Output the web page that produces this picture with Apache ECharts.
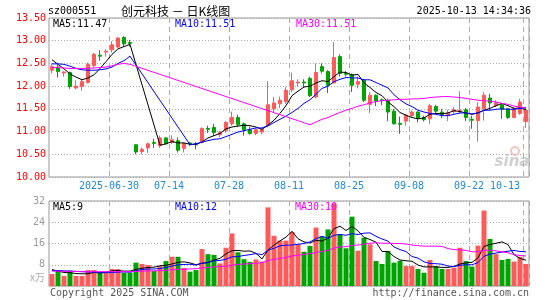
<!DOCTYPE html>
<html>
<head>
<meta charset="utf-8">
<script src="https://cdn.jsdelivr.net/npm/echarts@6/dist/echarts.min.js"></script>
<style>
html, body { margin: 0; padding: 0; background: #fff; }
#chart { width: 545px; height: 300px; }
</style>
</head>
<body>
<div id="chart"></div>
<script>
// trading days shown (80 sessions)
var dates = [
  '2025-06-16','2025-06-17','2025-06-18','2025-06-19','2025-06-20','2025-06-23','2025-06-24','2025-06-25','2025-06-26','2025-06-27',
  '2025-06-30','2025-07-01','2025-07-02','2025-07-03','2025-07-04','2025-07-07','2025-07-08','2025-07-09','2025-07-10','2025-07-11',
  '2025-07-14','2025-07-15','2025-07-16','2025-07-17','2025-07-18','2025-07-21','2025-07-22','2025-07-23','2025-07-24','2025-07-25',
  '2025-07-28','2025-07-29','2025-07-30','2025-07-31','2025-08-01','2025-08-04','2025-08-05','2025-08-06','2025-08-07','2025-08-08',
  '2025-08-11','2025-08-12','2025-08-13','2025-08-14','2025-08-15','2025-08-18','2025-08-19','2025-08-20','2025-08-21','2025-08-22',
  '2025-08-25','2025-08-26','2025-08-27','2025-08-28','2025-08-29','2025-09-01','2025-09-02','2025-09-03','2025-09-04','2025-09-05',
  '2025-09-08','2025-09-09','2025-09-10','2025-09-11','2025-09-12','2025-09-15','2025-09-16','2025-09-17','2025-09-18','2025-09-19',
  '2025-09-22','2025-09-23','2025-09-24','2025-09-25','2025-09-26','2025-09-29','2025-09-30','2025-10-09','2025-10-10','2025-10-13'
];
var tickDates = ['2025-06-30','2025-07-14','2025-07-28','2025-08-11','2025-08-25','2025-09-08','2025-09-22','2025-10-13'];

var open = [12.35,12.42,12.29,12.30,11.96,11.99,12.08,12.45,12.68,12.75, 12.80,12.86,13.07,12.96,10.71,10.56,10.64,10.76,10.69,10.86,
  10.76,10.80,10.63,10.75,10.73,10.76,11.07,11.09,10.93,11.02, 11.17,11.31,11.17,11.04,10.96,10.99,11.13,11.50,11.61,11.66,
  11.92,12.07,12.09,12.17,11.76,12.43,12.32,12.07,12.65,12.28, 12.26,12.04,12.13,11.60,11.80,11.70,11.69,11.45,11.18,11.23,
  11.35,11.43,11.31,11.28,11.55,11.43,11.35,11.44,11.45,11.48, 11.27,11.24,11.50,11.74,11.57,11.59,11.50,11.31,11.40,11.22];
var close = [12.43,12.32,12.31,11.99,12.00,12.10,12.48,12.70,12.66,12.77, 12.91,13.06,12.93,12.94,10.55,10.61,10.73,10.74,10.86,10.73,
  10.82,10.59,10.74,10.73,10.71,11.07,11.05,10.98,10.98,11.20, 11.31,11.15,11.04,10.96,11.04,11.05,11.59,11.63,11.69,11.91,
  12.12,12.09,12.07,11.79,12.30,12.33,12.02,12.63,12.28,12.26, 12.02,12.10,11.69,11.80,11.67,11.68,11.43,11.17,11.16,11.36,
  11.43,11.30,11.26,11.57,11.45,11.37,11.41,11.48,11.47,11.31, 11.25,11.54,11.80,11.63,11.63,11.49,11.31,11.50,11.65,11.47];
var low = [12.28,12.19,12.21,11.94,11.93,11.90,12.06,12.41,12.56,12.65, 12.74,12.84,12.87,12.87,10.50,10.50,10.53,10.64,10.64,10.72,
  10.72,10.54,10.54,10.68,10.61,10.74,10.97,10.91,10.87,10.97, 11.13,11.11,10.91,10.93,10.92,10.94,11.09,11.43,11.52,11.61,
  11.87,11.99,11.97,11.76,11.73,12.28,11.85,12.06,12.21,12.21, 11.87,11.95,11.65,11.41,11.56,11.58,11.23,11.16,10.95,11.13,
  11.31,11.20,11.22,11.17,11.39,11.30,11.23,11.39,11.39,11.23, 11.06,10.78,11.24,11.48,11.54,11.28,11.28,11.30,11.37,11.08];
var high = [12.50,12.47,12.33,12.32,12.13,12.15,12.52,12.73,12.79,12.81, 12.99,13.08,13.10,13.02,10.72,10.65,10.76,10.84,10.91,10.88,
  10.92,10.87,10.76,10.77,10.77,11.09,11.13,11.17,11.02,11.23, 11.44,11.37,11.20,11.11,11.07,11.07,12.11,11.76,11.77,11.98,
  12.30,12.15,12.15,12.21,12.50,12.50,12.35,12.97,12.70,12.33, 12.28,12.21,12.15,11.87,11.82,11.73,11.72,11.50,11.33,11.38,
  11.46,11.45,11.35,11.61,11.59,11.50,11.48,11.54,11.89,11.52, 11.35,11.65,11.87,11.83,11.69,11.63,11.52,11.54,11.72,11.50];

// moving averages as drawn (restart after the 07-04 ex-rights gap)
var ma5 = [12.58,12.48,12.38,12.27,12.20,12.14,12.18,12.25,12.39,12.54, 12.70,12.82,12.87,12.92,null,null,null,null,10.70,10.73,
  10.78,10.75,10.75,10.72,10.72,10.77,10.86,10.91,10.96,11.06, 11.10,11.12,11.14,11.13,11.10,11.05,11.14,11.25,11.40,11.57,
  11.79,11.89,11.98,12.00,12.07,12.12,12.10,12.21,12.31,12.30, 12.24,12.26,12.07,11.97,11.86,11.79,11.65,11.55,11.42,11.36,
  11.31,11.28,11.30,11.38,11.40,11.39,11.41,11.46,11.44,11.41, 11.38,11.41,11.47,11.51,11.57,11.62,11.57,11.51,11.52,11.48];
var ma10 = [12.49,12.49,12.48,12.44,12.39,12.36,12.35,12.35,12.36,12.38, 12.42,12.50,12.56,12.66,null,null,null,null,null,null,
  null,null,null,10.71,10.73,10.77,10.80,10.83,10.84,10.89, 10.94,10.99,11.02,11.05,11.08,11.08,11.13,11.20,11.27,11.34,
  11.42,11.51,11.62,11.70,11.82,11.95,12.00,12.10,12.15,12.19, 12.18,12.18,12.14,12.14,12.08,12.02,11.96,11.81,11.70,11.61,
  11.55,11.47,11.43,11.40,11.38,11.35,11.35,11.38,11.41,11.41, 11.39,11.41,11.47,11.47,11.49,11.50,11.49,11.49,11.51,11.53];
var ma30 = [12.41,12.41,12.40,12.39,12.39,12.39,12.39,12.40,12.41,12.42, 12.45,12.48,12.50,12.48,null,null,null,null,null,null,
  null,null,null,null,null,null,null,null,null,null, null,null,null,null,null,null,null,null,null,null,
  null,null,null,11.15,11.21,11.27,11.31,11.37,11.42,11.47, 11.51,11.56,11.59,11.63,11.66,11.68,11.69,11.70,11.71,11.71,
  11.72,11.72,11.73,11.75,11.76,11.77,11.77,11.76,11.75,11.73, 11.71,11.69,11.68,11.67,11.65,11.62,11.60,11.56,11.54,11.51];

// volume, in 10k lots
var vol = [4.5,5.8,3.8,5.8,3.8,3.8,6.0,6.0,5.0,5.0, 6.4,6.4,5.0,5.0,8.8,8.3,7.9,5.7,7.5,9.4,
  11.0,11.0,6.8,5.4,6.0,13.9,12.0,11.7,8.5,14.4, 19.8,12.7,10.1,9.1,10.0,9.2,29.6,18.9,17.1,17.1,
  20.3,15.8,12.9,15.1,22.0,18.6,21.3,31.1,19.5,14.2, 26.1,13.3,18.2,15.7,9.4,8.3,13.2,8.8,9.5,7.5,
  7.5,6.4,5.0,9.8,7.5,6.4,6.4,6.9,14.4,9.4, 7.3,15.2,28.4,17.7,12.0,9.8,10.2,9.2,11.0,8.3];
var vma5 = [6.2,5.6,5.1,5.0,4.7,4.6,4.6,5.1,4.9,5.2, 5.7,5.8,5.6,5.6,6.3,6.7,7.0,7.1,7.6,7.8,
  8.3,8.9,9.1,8.7,8.0,8.6,8.8,9.8,10.4,12.1, 13.3,13.4,13.1,13.2,12.3,10.2,13.6,15.4,17.0,18.4,
  20.6,17.8,16.6,16.2,17.2,16.9,18.0,21.6,22.5,20.9, 22.4,20.8,18.3,17.5,16.5,13.0,13.0,11.1,9.8,9.5,
  9.3,7.9,7.2,7.2,7.2,7.0,7.0,7.4,8.3,8.7, 8.9,10.6,14.9,15.6,16.1,16.6,15.6,11.8,10.4,9.7];
var vma10 = [5.8,5.8,5.7,5.6,5.5,5.4,5.3,5.2,5.1,5.0, 5.1,5.2,5.3,5.2,5.7,6.2,6.4,6.4,6.6,7.0,
  7.5,8.0,8.1,8.2,7.9,8.5,8.9,9.5,9.6,10.1, 11.0,11.1,11.5,11.8,12.2,11.8,13.5,14.2,15.1,15.4,
  15.4,15.7,16.0,16.6,17.8,18.7,17.9,19.1,19.4,19.1, 19.7,19.4,19.9,20.0,18.7,17.7,16.9,14.7,13.7,13.0,
  11.1,10.5,9.1,8.5,8.4,8.2,7.5,7.3,7.8,8.0, 8.0,8.8,11.2,12.0,12.4,12.8,13.1,13.4,13.0,12.9];
var vma30 = [5.6,5.6,5.5,5.5,5.5,5.4,5.4,5.4,5.4,5.4, 5.4,5.4,5.4,5.4,5.5,5.6,5.7,5.7,5.8,5.9,
  6.1,6.3,6.3,6.4,6.5,6.8,7.0,7.2,7.3,7.4, 7.9,8.1,8.3,8.4,8.6,8.8,9.6,10.0,10.4,10.8,
  11.3,11.6,11.9,12.2,12.6,13.0,13.4,14.3,14.7,14.8, 15.3,15.4,15.8,16.1,16.3,16.1,16.1,16.0,16.0,15.8,
  15.4,15.2,15.0,15.0,15.0,14.9,14.1,13.7,13.6,13.4, 12.9,12.9,13.4,13.5,13.2,12.9,12.5,11.8,11.5,11.3];

var UP = '#ff5a5a', DOWN = '#00a400';
var MONO = '"DejaVu Sans Mono", monospace';
var CJK = '"Noto Sans CJK SC", sans-serif';

var isTick = function(i, v) { return tickDates.indexOf(dates[i]) >= 0; };

function xAxisFor(gi, showLabel) {
  return {
    type: 'category', gridIndex: gi, data: dates, boundaryGap: true,
    axisLine: { show: false }, axisTick: { show: false },
    axisLabel: {
      show: showLabel, interval: isTick, color: '#2389d6', fontFamily: MONO, fontSize: 10,
      margin: 4, padding: [0, 6, 0, 0], alignMaxLabel: 'right',
      formatter: function(v) { return v === '2025-06-30' ? v : v.slice(5); }
    },
    splitLine: { show: true, interval: isTick, lineStyle: { color: '#aaa', type: [5, 4], width: 1 } }
  };
}

function maLine(name, data, color, xi, yi) {
  return {
    name: name, type: 'line', data: data, xAxisIndex: xi, yAxisIndex: yi,
    showSymbol: false, connectNulls: true, silent: true, z: 5,
    lineStyle: { width: 1, color: color }
  };
}

function txt(text, x, y, color, font, align) {
  return { type: 'text', silent: true, z: 100,
    style: { text: text, x: x, y: y, fill: color, font: font, textAlign: align || 'left', textVerticalAlign: 'middle' } };
}

var chart = echarts.init(document.getElementById('chart'), null, { renderer: 'canvas' });
chart.setOption({
  animation: false,
  backgroundColor: '#fff',
  grid: [
    { left: 49, top: 18, width: 480, height: 159, show: true, borderColor: '#999', borderWidth: 1 },
    { left: 49, top: 201, width: 480, height: 85, show: true, borderColor: '#999', borderWidth: 1 }
  ],
  xAxis: [xAxisFor(0, true), xAxisFor(1, false)],
  yAxis: [
    { type: 'value', gridIndex: 0, min: 10, max: 13.5, interval: 0.5,
      axisLine: { show: false }, axisTick: { show: false },
      axisLabel: { color: '#ff0000', fontFamily: MONO, fontSize: 10, margin: 3,
        formatter: function(v) { return v.toFixed(2); } },
      splitLine: { lineStyle: { color: '#aaa', type: [1, 2] } } },
    { type: 'value', gridIndex: 1, min: 0, max: 32, interval: 8,
      axisLine: { show: false }, axisTick: { show: false },
      axisLabel: { color: '#999', fontFamily: MONO, fontSize: 10, margin: 4,
        formatter: function(v) { return v === 0 ? '' : String(v); } },
      splitLine: { lineStyle: { color: '#aaa', type: [1, 2] } } }
  ],
  series: [
    { type: 'candlestick', xAxisIndex: 0, yAxisIndex: 0, barWidth: 4, silent: true,
      data: dates.map(function(d, i) { return [open[i], close[i], low[i], high[i]]; }),
      itemStyle: { color: UP, color0: DOWN, borderColor: UP, borderColor0: DOWN, borderWidth: 1 } },
    maLine('MA5', ma5, '#000000', 0, 0),
    maLine('MA10', ma10, '#0000ff', 0, 0),
    maLine('MA30', ma30, '#ff00ff', 0, 0),
    { type: 'bar', xAxisIndex: 1, yAxisIndex: 1, barWidth: 5, silent: true,
      data: vol.map(function(v, i) {
        return { value: v, itemStyle: { color: close[i] >= open[i] ? UP : DOWN } };
      }) },
    maLine('VMA5', vma5, '#000000', 1, 1),
    maLine('VMA10', vma10, '#0000ff', 1, 1),
    maLine('VMA30', vma30, '#ff00ff', 1, 1)
  ],
  graphic: [
    txt('sz000551', 48, 11, '#000', '10px ' + MONO),
    txt('创元科技 － 日K线图', 121, 11, '#000', '12px ' + CJK),
    txt('2025-10-13 14:34:36', 531, 11, '#000', '10px ' + MONO, 'right'),
    txt('MA5:11.47', 53, 24, '#000', '10px ' + MONO),
    txt('MA10:11.51', 175, 24, '#0000ff', '10px ' + MONO),
    txt('MA30:11.51', 296, 24, '#ff00ff', '10px ' + MONO),
    txt('MA5:9', 53, 207, '#000', '10px ' + MONO),
    txt('MA10:12', 175, 207, '#0000ff', '10px ' + MONO),
    txt('MA30:10', 295, 207, '#ff00ff', '10px ' + MONO),
    txt('x万', 45, 277, '#aaa', '10px ' + CJK, 'right'),
    txt('Copyright 2025 SINA.COM', 50, 293, '#555', '10px ' + MONO),
    txt('http://finance.sina.com.cn', 529, 293, '#555', '10px ' + MONO, 'right'),
    { type: 'circle', silent: true, z: 1, shape: { cx: 515, cy: 151, r: 4 },
      style: { fill: 'none', stroke: 'rgba(230,140,140,0.5)', lineWidth: 2 } },
    txt('sina', 512, 162, 'rgba(170,170,170,0.55)', 'italic bold 15px "DejaVu Sans", sans-serif', 'center')
  ]
});
</script>
</body>
</html>
